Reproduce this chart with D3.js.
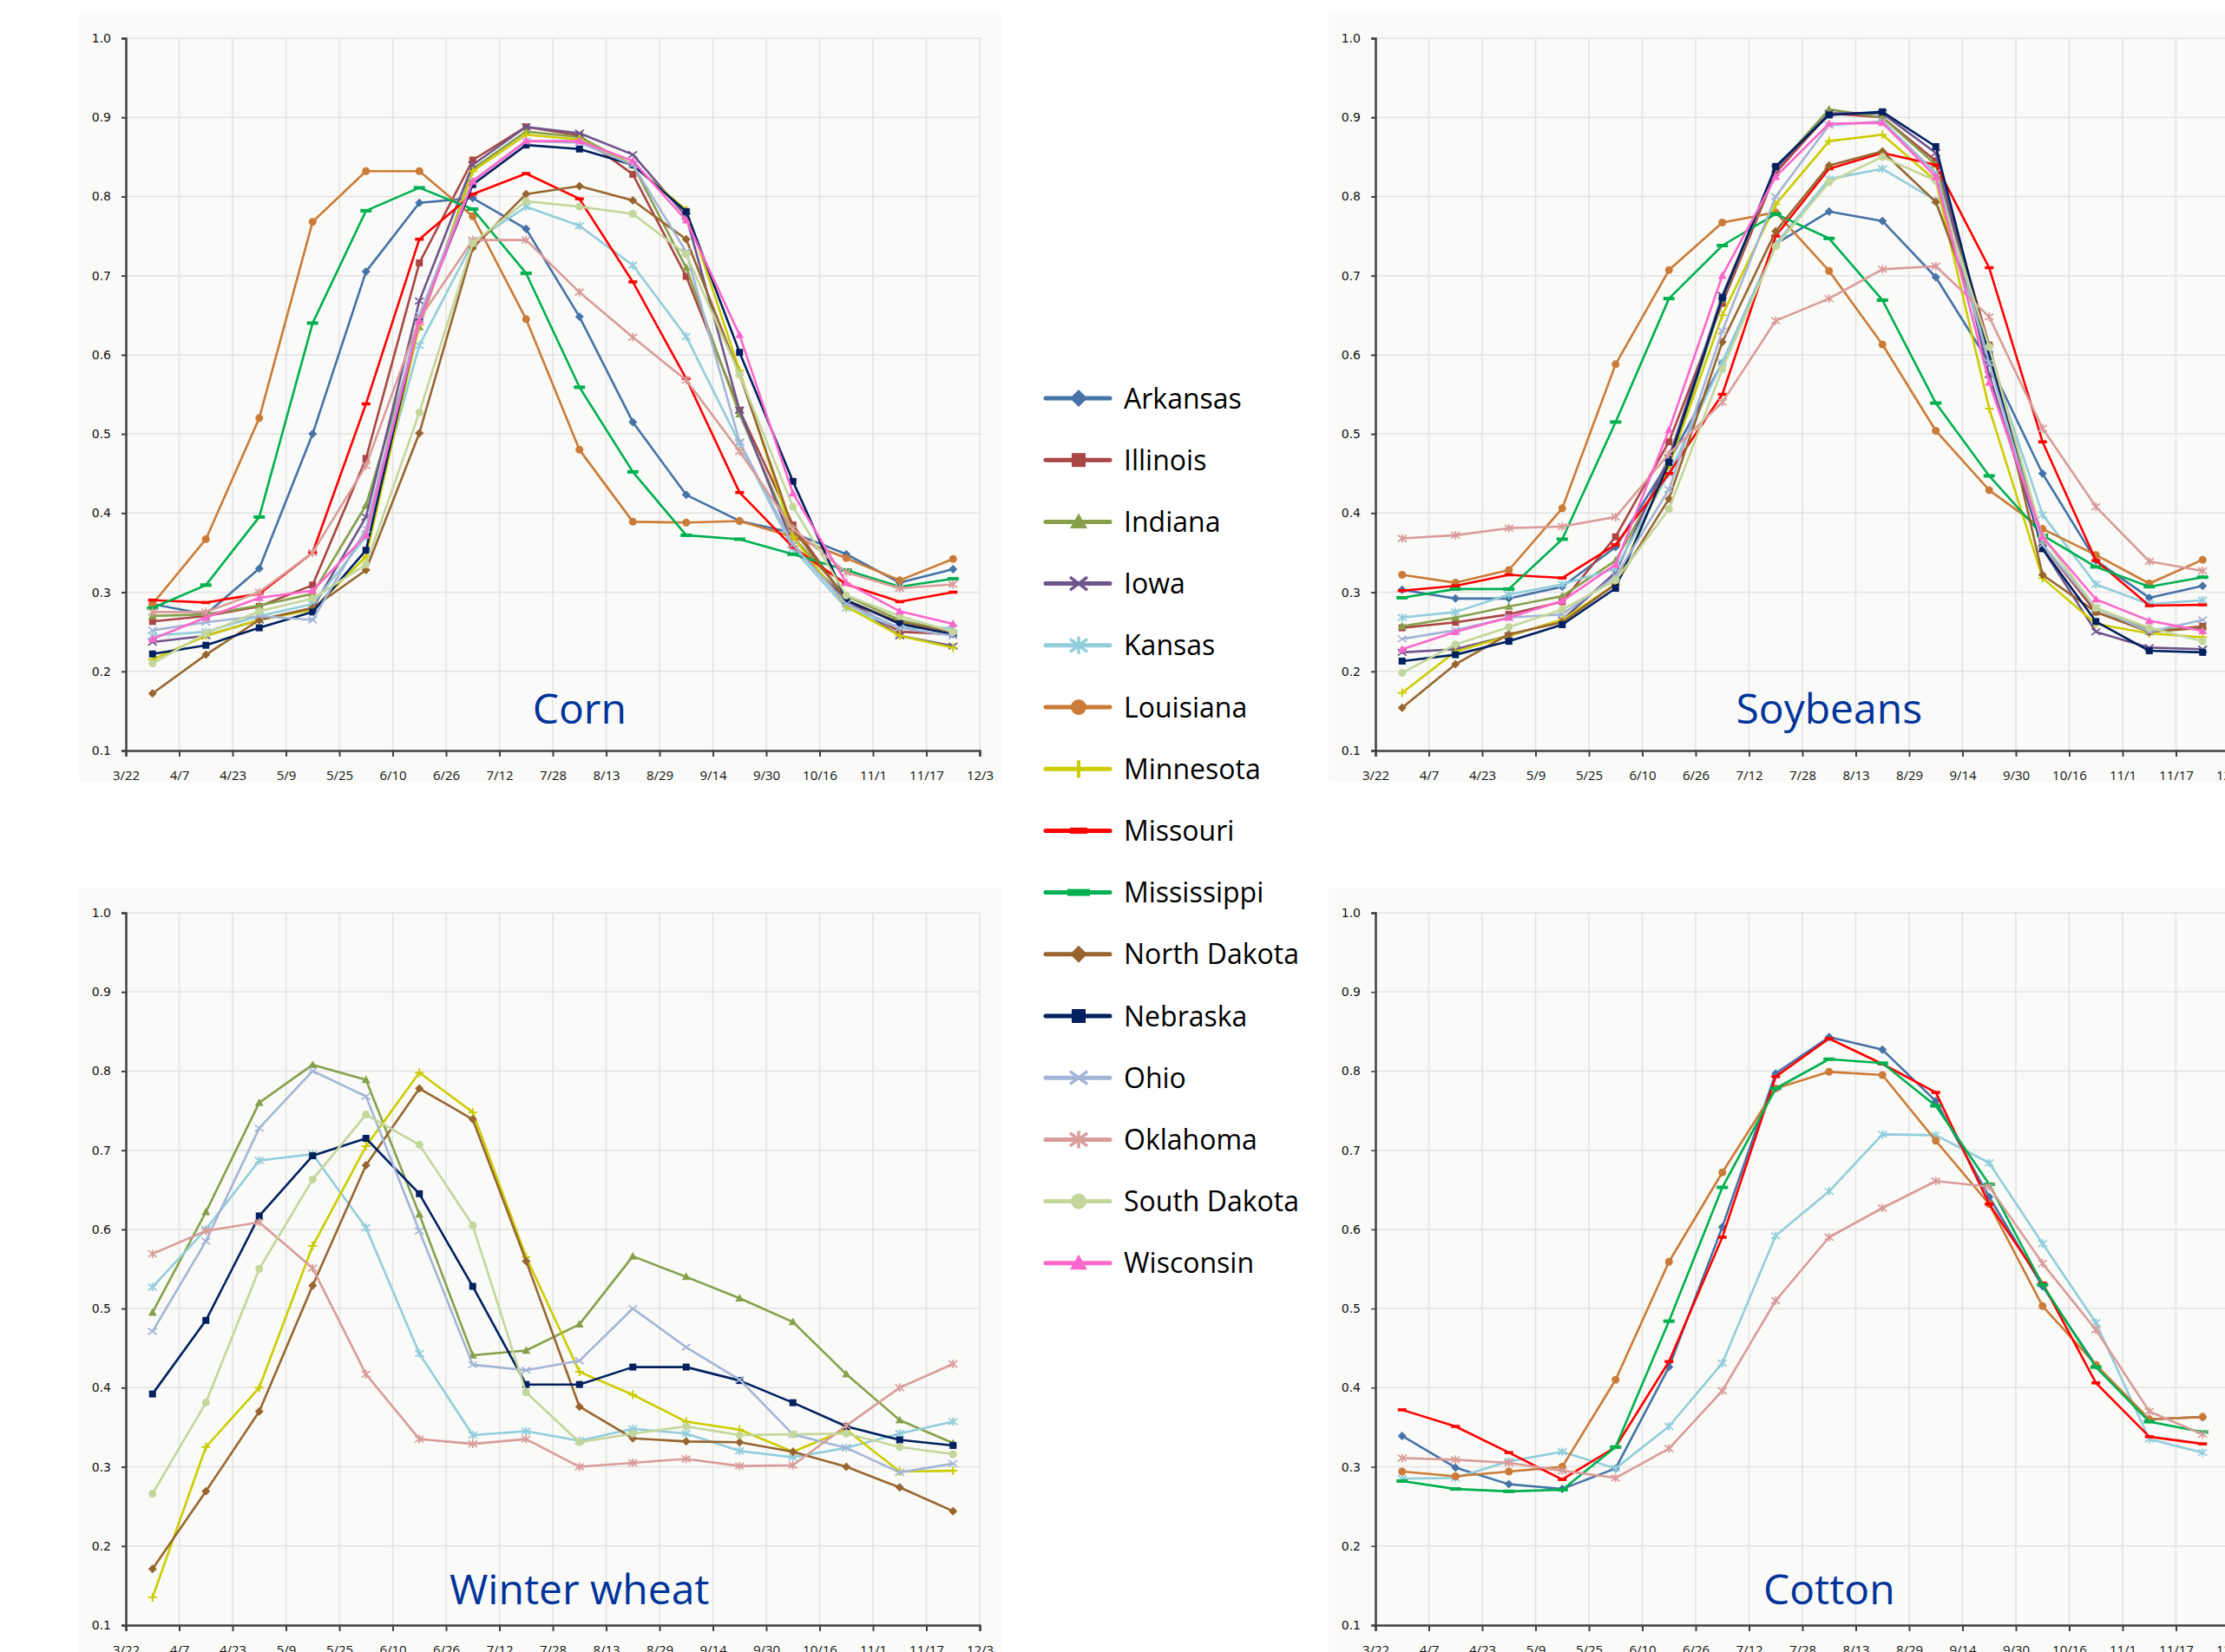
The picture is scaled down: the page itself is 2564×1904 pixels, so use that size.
<!DOCTYPE html>
<html>
<head>
<meta charset="utf-8">
<script src="https://cdn.jsdelivr.net/npm/d3@7"></script>
<style>
  body { margin: 0; background: #fff; }
  svg { display: block; }
</style>
</head>
<body>
<div id="chart-area"></div>
<script>
// x axis labels, data points sit halfway between two labels
const tickLabels = ["3/22","4/7","4/23","5/9","5/25","6/10","6/26","7/12","7/28","8/13","8/29","9/14","9/30","10/16","11/1","11/17","12/3"]
const yTicks = [0.1, 0.2, 0.3, 0.4, 0.5, 0.6, 0.7, 0.8, 0.9, 1.0]

const legendStates = ["Arkansas","Illinois","Indiana","Iowa","Kansas","Louisiana","Minnesota","Missouri","Mississippi","North Dakota","Nebraska","Ohio","Oklahoma","South Dakota","Wisconsin"]

// Corn
const cornStates = legendStates
const cornValues = [
  [0.285,0.272,0.330,0.500,0.705,0.792,0.798,0.759,0.648,0.515,0.423,0.390,0.375,0.348,0.312,0.329],
  [0.263,0.270,0.282,0.309,0.469,0.716,0.846,0.888,0.877,0.828,0.699,0.530,0.385,0.290,0.250,0.247],
  [0.270,0.272,0.283,0.298,0.410,0.635,0.835,0.882,0.875,0.840,0.710,0.525,0.370,0.295,0.265,0.250],
  [0.237,0.245,0.265,0.280,0.395,0.668,0.840,0.888,0.880,0.853,0.775,0.530,0.360,0.290,0.245,0.232],
  [0.245,0.250,0.270,0.285,0.370,0.612,0.742,0.787,0.763,0.713,0.623,0.488,0.355,0.280,0.255,0.255],
  [0.285,0.367,0.520,0.768,0.832,0.832,0.775,0.645,0.480,0.389,0.388,0.390,0.370,0.343,0.315,0.342],
  [0.215,0.245,0.265,0.278,0.345,0.638,0.832,0.878,0.872,0.840,0.783,0.580,0.370,0.282,0.245,0.230],
  [0.290,0.287,0.298,0.350,0.538,0.746,0.803,0.829,0.797,0.692,0.570,0.426,0.357,0.310,0.288,0.300],
  [0.280,0.309,0.395,0.640,0.782,0.811,0.784,0.703,0.559,0.452,0.372,0.367,0.348,0.328,0.307,0.317],
  [0.172,0.221,0.265,0.280,0.328,0.501,0.735,0.803,0.813,0.795,0.746,0.575,0.380,0.290,0.262,0.250],
  [0.222,0.233,0.255,0.275,0.353,0.645,0.815,0.865,0.860,0.840,0.781,0.603,0.440,0.290,0.260,0.247],
  [0.252,0.262,0.270,0.265,0.380,0.650,0.820,0.870,0.868,0.840,0.730,0.490,0.360,0.285,0.255,0.245],
  [0.275,0.275,0.300,0.350,0.460,0.645,0.745,0.745,0.679,0.622,0.568,0.478,0.380,0.325,0.305,0.310],
  [0.210,0.248,0.276,0.292,0.335,0.527,0.741,0.794,0.787,0.778,0.727,0.575,0.408,0.296,0.270,0.250],
  [0.241,0.268,0.293,0.302,0.372,0.642,0.819,0.870,0.870,0.845,0.770,0.625,0.425,0.312,0.276,0.260]
]

// Soybeans
const soyStates = legendStates
const soyValues = [
  [0.303,0.292,0.292,0.307,0.357,0.465,0.590,0.740,0.781,0.769,0.698,0.590,0.450,0.340,0.293,0.308],
  [0.255,0.262,0.272,0.288,0.370,0.490,0.665,0.830,0.905,0.900,0.845,0.612,0.360,0.275,0.250,0.257],
  [0.257,0.268,0.282,0.295,0.340,0.460,0.670,0.835,0.910,0.900,0.840,0.600,0.360,0.280,0.252,0.255],
  [0.224,0.228,0.245,0.265,0.325,0.470,0.675,0.835,0.905,0.905,0.855,0.575,0.355,0.250,0.230,0.228],
  [0.268,0.275,0.297,0.310,0.330,0.450,0.590,0.740,0.822,0.835,0.795,0.600,0.398,0.310,0.285,0.290],
  [0.322,0.312,0.328,0.406,0.588,0.707,0.767,0.780,0.706,0.613,0.504,0.429,0.380,0.347,0.311,0.341],
  [0.173,0.225,0.245,0.265,0.310,0.460,0.650,0.790,0.870,0.878,0.820,0.532,0.318,0.260,0.248,0.243],
  [0.302,0.308,0.322,0.318,0.360,0.450,0.550,0.750,0.835,0.855,0.840,0.710,0.490,0.340,0.283,0.284],
  [0.293,0.304,0.304,0.367,0.515,0.671,0.738,0.778,0.747,0.669,0.539,0.447,0.372,0.332,0.307,0.319],
  [0.154,0.209,0.247,0.262,0.310,0.418,0.616,0.756,0.839,0.857,0.793,0.612,0.322,0.275,0.250,0.255],
  [0.213,0.221,0.238,0.259,0.305,0.464,0.672,0.838,0.903,0.907,0.863,0.600,0.355,0.263,0.226,0.224],
  [0.241,0.252,0.268,0.272,0.320,0.430,0.630,0.800,0.890,0.895,0.830,0.590,0.360,0.280,0.250,0.265],
  [0.368,0.372,0.381,0.383,0.395,0.475,0.540,0.643,0.671,0.708,0.712,0.648,0.507,0.408,0.339,0.327],
  [0.198,0.234,0.256,0.278,0.315,0.405,0.582,0.737,0.818,0.850,0.820,0.610,0.370,0.280,0.255,0.238],
  [0.228,0.250,0.268,0.289,0.335,0.505,0.700,0.825,0.892,0.893,0.825,0.565,0.370,0.291,0.264,0.251]
]

// Winter wheat
const wheatStates = ["Indiana","Kansas","Minnesota","North Dakota","Nebraska","Ohio","Oklahoma","South Dakota"]
const wheatValues = [
  [0.495,0.622,0.760,0.808,0.789,0.619,0.441,0.447,0.480,0.566,0.540,0.513,0.483,0.417,0.359,0.330],
  [0.527,0.600,0.687,0.695,0.602,0.443,0.340,0.345,0.333,0.348,0.342,0.320,0.312,0.324,0.342,0.357],
  [0.135,0.325,0.400,0.579,0.705,0.798,0.748,0.565,0.420,0.391,0.357,0.347,0.319,0.347,0.294,0.295],
  [0.171,0.269,0.370,0.529,0.681,0.778,0.739,0.560,0.376,0.336,0.332,0.331,0.319,0.300,0.274,0.244],
  [0.392,0.485,0.617,0.693,0.715,0.645,0.528,0.404,0.404,0.426,0.426,0.409,0.381,0.351,0.334,0.327],
  [0.471,0.585,0.728,0.800,0.768,0.598,0.429,0.422,0.434,0.500,0.451,0.410,0.341,0.324,0.293,0.304],
  [0.569,0.598,0.609,0.551,0.417,0.335,0.329,0.335,0.300,0.305,0.310,0.301,0.302,0.352,0.400,0.430],
  [0.266,0.381,0.550,0.663,0.745,0.707,0.605,0.394,0.331,0.342,0.351,0.340,0.341,0.342,0.325,0.316]
]

// Cotton
const cottonStates = ["Arkansas","Kansas","Louisiana","Missouri","Mississippi","Oklahoma"]
const cottonValues = [
  [0.339,0.299,0.278,0.272,0.298,0.426,0.603,0.797,0.843,0.827,0.762,0.641,0.528,0.428,0.360,0.363],
  [0.285,0.286,0.307,0.319,0.298,0.351,0.431,0.592,0.648,0.720,0.719,0.684,0.582,0.482,0.335,0.318],
  [0.294,0.288,0.294,0.300,0.410,0.559,0.672,0.778,0.799,0.795,0.712,0.632,0.503,0.429,0.360,0.363],
  [0.372,0.351,0.318,0.284,0.325,0.433,0.590,0.793,0.841,0.809,0.773,0.632,0.532,0.406,0.338,0.329],
  [0.282,0.272,0.269,0.271,0.325,0.484,0.653,0.778,0.815,0.810,0.756,0.657,0.530,0.426,0.357,0.344],
  [0.311,0.309,0.305,0.295,0.286,0.323,0.396,0.510,0.590,0.627,0.661,0.654,0.557,0.473,0.370,0.341]
]

// look of each state's line
const stateStyle = {
  "Arkansas":     { color: "#4572A7", marker: "diamond" },
  "Illinois":     { color: "#AA4643", marker: "square" },
  "Indiana":      { color: "#86A04A", marker: "triangle" },
  "Iowa":         { color: "#6E558C", marker: "x" },
  "Kansas":       { color: "#92CDDC", marker: "star" },
  "Louisiana":    { color: "#CB7B37", marker: "circle" },
  "Minnesota":    { color: "#CCCC00", marker: "plus" },
  "Missouri":     { color: "#FF0000", marker: "dash" },
  "Mississippi":  { color: "#00B050", marker: "longdash" },
  "North Dakota": { color: "#98652F", marker: "diamond" },
  "Nebraska":     { color: "#002060", marker: "square" },
  "Ohio":         { color: "#A3B5D6", marker: "x" },
  "Oklahoma":     { color: "#D99C9A", marker: "star" },
  "South Dakota": { color: "#C3D69B", marker: "circle" },
  "Wisconsin":    { color: "#FF66CC", marker: "triangle" }
}

const W = 2564, H = 1904
const PW = 984, PH = 821

const svg = d3.select("#chart-area").append("svg")
  .attr("width", W)
  .attr("height", H)
  .style("overflow", "hidden")

function drawMarker(sel, kind, color, s) {
  if (kind === "diamond") {
    sel.append("path").attr("d", `M0,${-s}L${s},0L0,${s}L${-s},0Z`).attr("fill", color)
  } else if (kind === "square") {
    sel.append("rect").attr("x", -s * 0.8).attr("y", -s * 0.8)
      .attr("width", s * 1.6).attr("height", s * 1.6).attr("fill", color)
  } else if (kind === "triangle") {
    sel.append("path").attr("d", `M0,${-s}L${s},${s * 0.75}L${-s},${s * 0.75}Z`).attr("fill", color)
  } else if (kind === "circle") {
    sel.append("circle").attr("r", s * 0.9).attr("fill", color)
  } else if (kind === "x" || kind === "star") {
    let d = `M${-s},${-s * 0.75}L${s},${s * 0.75}M${-s},${s * 0.75}L${s},${-s * 0.75}`
    if (kind === "star") d += `M0,${-s}L0,${s}`
    sel.append("path").attr("d", d).attr("stroke", color).attr("stroke-width", s * 0.35).attr("fill", "none")
  } else if (kind === "plus") {
    sel.append("path").attr("d", `M0,${-s}L0,${s}M${-s},0L${s},0`)
      .attr("stroke", color).attr("stroke-width", s * 0.4).attr("fill", "none")
  } else if (kind === "dash") {
    sel.append("rect").attr("x", -s).attr("y", -s * 0.35)
      .attr("width", s * 2).attr("height", s * 0.7).attr("fill", color)
  } else if (kind === "longdash") {
    sel.append("rect").attr("x", -s * 1.3).attr("y", -s * 0.4)
      .attr("width", s * 2.6).attr("height", s * 0.8).attr("fill", color)
  }
}

function drawPanel(left, top, bgRect, title, titleY, states, values) {
  svg.append("rect")
    .attr("x", bgRect[0]).attr("y", bgRect[1])
    .attr("width", bgRect[2]).attr("height", bgRect[3])
    .attr("fill", "#fafbf8")

  const g = svg.append("g").attr("transform", `translate(${left}, ${top})`)

  const x = d3.scaleLinear().domain([0, 16]).range([0, PW])
  const y = d3.scaleLinear().domain([0.1, 1.0]).range([PH, 0])

  // grid
  g.append("g").selectAll("line").data(yTicks.slice(1)).enter().append("line")
    .attr("x1", 0).attr("x2", PW)
    .attr("y1", d => y(d)).attr("y2", d => y(d))
    .attr("stroke", "#e2e2e2").attr("stroke-width", 1.5)
  g.append("g").selectAll("line").data(d3.range(1, 17)).enter().append("line")
    .attr("x1", d => x(d)).attr("x2", d => x(d))
    .attr("y1", 0).attr("y2", PH)
    .attr("stroke", "#e2e2e2").attr("stroke-width", 1.5)

  // title
  g.append("text")
    .attr("x", x(8.5))
    .attr("y", titleY)
    .attr("text-anchor", "middle")
    .attr("font-family", "Open Sans, sans-serif")
    .attr("font-size", "48px")
    .attr("fill", "#003399")
    .text(title)

  // lines
  const line = d3.line().x((d, i) => x(i + 0.5)).y(d => y(d))
  states.forEach((st, k) => {
    const style = stateStyle[st]
    g.append("path")
      .datum(values[k])
      .attr("d", line)
      .attr("fill", "none")
      .attr("stroke", style.color)
      .attr("stroke-width", 2.6)
      .attr("stroke-linejoin", "round")
    g.append("g").selectAll("g").data(values[k]).enter().append("g")
      .attr("transform", (d, i) => `translate(${x(i + 0.5)}, ${y(d)})`)
      .each(function () { drawMarker(d3.select(this), style.marker, style.color, 5) })
  })

  // axes
  const yAxisCall = d3.axisLeft(y).tickValues(yTicks).tickFormat(d3.format(".1f"))
    .tickSize(5).tickPadding(12)
  const ya = g.append("g").call(yAxisCall)
  ya.selectAll("text").attr("font-family", "DejaVu Sans, sans-serif").attr("font-size", "14px").attr("fill", "#111")

  const xAxisCall = d3.axisBottom(x).tickValues(d3.range(17)).tickFormat(i => tickLabels[i])
    .tickSize(7).tickPadding(16)
  const xa = g.append("g").attr("transform", `translate(0, ${PH})`).call(xAxisCall)
  xa.selectAll("text").attr("font-family", "Open Sans, sans-serif").attr("font-size", "15px").attr("fill", "#111")

  svg.selectAll(".domain").attr("stroke", "#404040").attr("stroke-width", 2.5)
  svg.selectAll(".tick line").attr("stroke", "#404040").attr("stroke-width", 2)
  ya.selectAll(".tick line").attr("stroke-width", 1.5)
}

drawPanel(145, 44, [91, 15, 1063, 887], "Corn", 790, cornStates, cornValues)
drawPanel(1585, 44, [1531, 15, 1040, 887], "Soybeans", 790, soyStates, soyValues)
drawPanel(145, 1052, [91, 1023, 1063, 881], "Winter wheat", 797, wheatStates, wheatValues)
drawPanel(1585, 1052, [1531, 1023, 1040, 881], "Cotton", 797, cottonStates, cottonValues)

// legend
const legend = svg.append("g").attr("transform", "translate(1205, 459)")
legendStates.forEach((st, i) => {
  const style = stateStyle[st]
  const row = legend.append("g").attr("transform", `translate(0, ${i * 71.2})`)
  row.append("line").attr("x1", 0).attr("x2", 74)
    .attr("stroke", style.color).attr("stroke-width", 5).attr("stroke-linecap", "round")
  const m = row.append("g").attr("transform", "translate(38, 0)")
  drawMarker(m, style.marker, style.color, 10)
  row.append("text")
    .attr("x", 90)
    .attr("dy", "0.36em")
    .attr("font-family", "Open Sans, sans-serif")
    .attr("font-size", "32px")
    .attr("fill", "#000")
    .text(st)
})
</script>
</body>
</html>
